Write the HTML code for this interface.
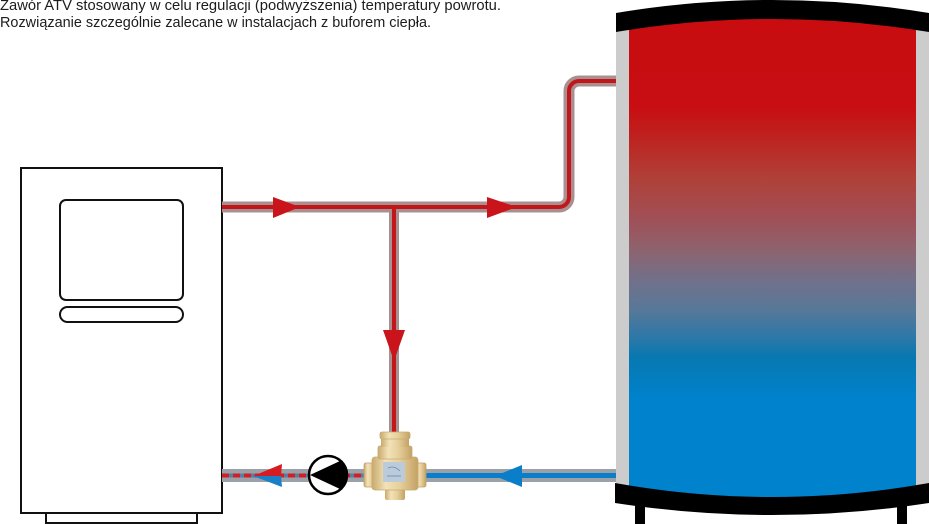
<!DOCTYPE html>
<html>
<head>
<meta charset="utf-8">
<style>
html,body{margin:0;padding:0;background:#fff;}
body{width:929px;height:524px;overflow:hidden;}
svg{display:block;}
</style>
</head>
<body>
<svg width="929" height="524" viewBox="0 0 929 524" xmlns="http://www.w3.org/2000/svg">
  <defs>
    <linearGradient id="tank" gradientUnits="userSpaceOnUse" x1="0" y1="0" x2="0" y2="524">
      <stop offset="0" stop-color="#c80c10"/>
      <stop offset="0.205" stop-color="#c80e12"/>
      <stop offset="0.25" stop-color="#c01e1c"/>
      <stop offset="0.34" stop-color="#b04038"/>
      <stop offset="0.42" stop-color="#a05058"/>
      <stop offset="0.48" stop-color="#8c6470"/>
      <stop offset="0.535" stop-color="#72708a"/>
      <stop offset="0.59" stop-color="#587898"/>
      <stop offset="0.645" stop-color="#2c78a8"/>
      <stop offset="0.68" stop-color="#0878b0"/>
      <stop offset="0.76" stop-color="#0082cc"/>
      <stop offset="1" stop-color="#0082cc"/>
    </linearGradient>
    <linearGradient id="brass" x1="0" y1="0" x2="1" y2="0">
      <stop offset="0" stop-color="#c9aa6c"/>
      <stop offset="0.3" stop-color="#f2e2b8"/>
      <stop offset="0.6" stop-color="#e6d09c"/>
      <stop offset="1" stop-color="#c4a264"/>
    </linearGradient>
  </defs>

  <!-- Title text -->
  <text x="0" y="10" font-family="'Liberation Sans', sans-serif" font-size="14.5" fill="#1c1c1c" textLength="501" lengthAdjust="spacingAndGlyphs">Zawór ATV stosowany w celu regulacji (podwyższenia) temperatury powrotu.</text>
  <text x="0" y="27" font-family="'Liberation Sans', sans-serif" font-size="14.5" fill="#1c1c1c" textLength="431" lengthAdjust="spacingAndGlyphs">Rozwiązanie szczególnie zalecane w instalacjach z buforem ciepła.</text>

  <!-- Boiler -->
  <rect x="21" y="168" width="201" height="345" fill="#fff" stroke="#111" stroke-width="2"/>
  <rect x="60" y="200" width="123" height="100" rx="6" fill="#fff" stroke="#111" stroke-width="2"/>
  <rect x="60" y="307" width="123" height="15" rx="7.5" fill="#fff" stroke="#111" stroke-width="2"/>
  <rect x="46" y="513" width="151" height="10" fill="#fff" stroke="#111" stroke-width="2"/>

  <!-- Hot pipe -->
  <g fill="none" stroke-linejoin="round">
    <path d="M222 207 H559 A10 10 0 0 0 569 197 V91 A10 10 0 0 1 579 81 H617" stroke="#a99090" stroke-width="11"/>
    <path d="M394 207 V433" stroke="#a99090" stroke-width="10"/>
    <path d="M222 207 H559 A10 10 0 0 0 569 197 V91 A10 10 0 0 1 579 81 H617" stroke="#c3161a" stroke-width="4"/>
    <path d="M394 207 V433" stroke="#c3161a" stroke-width="4"/>
  </g>
  <!-- Hot arrows -->
  <polygon points="273,197 300,207 273,218" fill="#c8141a"/>
  <polygon points="487,197 517,207 487,218" fill="#c8141a"/>
  <polygon points="383,330 405,330 394,361" fill="#c8141a"/>

  <!-- Return pipe -->
  <rect x="222" y="469" width="394" height="13" fill="#9aa1a8"/>
  <line x1="425" y1="475.5" x2="616" y2="475.5" stroke="#0a7ec8" stroke-width="5"/>
  <line x1="222" y1="475.5" x2="366" y2="475.5" stroke="#5a7ca8" stroke-width="4"/>
  <line x1="222" y1="475.5" x2="366" y2="475.5" stroke="#d02024" stroke-width="4" stroke-dasharray="7 4"/>
  <!-- Return arrows -->
  <polygon points="253,476 282,464 281,476" fill="#d41c22"/>
  <polygon points="253,476 282,487 281,476" fill="#1a80c8"/>
  <polygon points="495,476 522,465 522,487" fill="#0a7ec8"/>

  <!-- Pump -->
  <circle cx="328" cy="475" r="19" fill="#fff" stroke="#000" stroke-width="2.5"/>
  <path d="M310 475 L340 461 A19 19 0 0 1 340 489 Z" fill="#000"/>

  <!-- Valve -->
  <g>
    <rect x="364" y="463" width="12" height="24" rx="2" fill="url(#brass)" stroke="#c0a066" stroke-width="0.8"/>
    <rect x="414" y="463" width="12" height="24" rx="2" fill="url(#brass)" stroke="#c0a066" stroke-width="0.8"/>
    <rect x="385" y="486" width="20" height="14" rx="2" fill="url(#brass)"/>
    <rect x="372" y="457" width="46" height="33" rx="3" fill="url(#brass)" stroke="#c8aa70" stroke-width="0.8"/>
    <rect x="378" y="446" width="34" height="13" rx="2" fill="url(#brass)" stroke="#c8aa70" stroke-width="0.8"/>
    <rect x="381" y="437" width="28" height="10" rx="1" fill="url(#brass)"/>
    <rect x="380" y="432" width="30" height="7" rx="2" fill="url(#brass)" stroke="#c8aa70" stroke-width="0.8"/>
    <rect x="383" y="462" width="22" height="20" rx="1" fill="#bccbdc"/>
    <path d="M388 468 Q394 465 400 471" stroke="#6a8ab0" stroke-width="0.8" fill="none"/>
    <line x1="387" y1="476" x2="401" y2="476" stroke="#6a8ab0" stroke-width="0.8"/>
  </g>

  <!-- Tank -->
  <rect x="629" y="18" width="287" height="482" fill="url(#tank)"/>
  <rect x="616" y="22" width="13" height="464" fill="#cccccc"/>
  <rect x="916" y="22" width="13" height="464" fill="#cccccc"/>
  <path d="M616 13 Q772.5 -13 929 13 L929 32 Q772.5 6 616 32 Z" fill="#000"/>
  <path d="M615 483 Q772 511 929 483 L929 503 Q772 527 615 503 Z" fill="#000"/>
  <rect x="635" y="500" width="10" height="24" fill="#000"/>
  <rect x="897" y="500" width="10" height="24" fill="#000"/>
</svg>
</body>
</html>
